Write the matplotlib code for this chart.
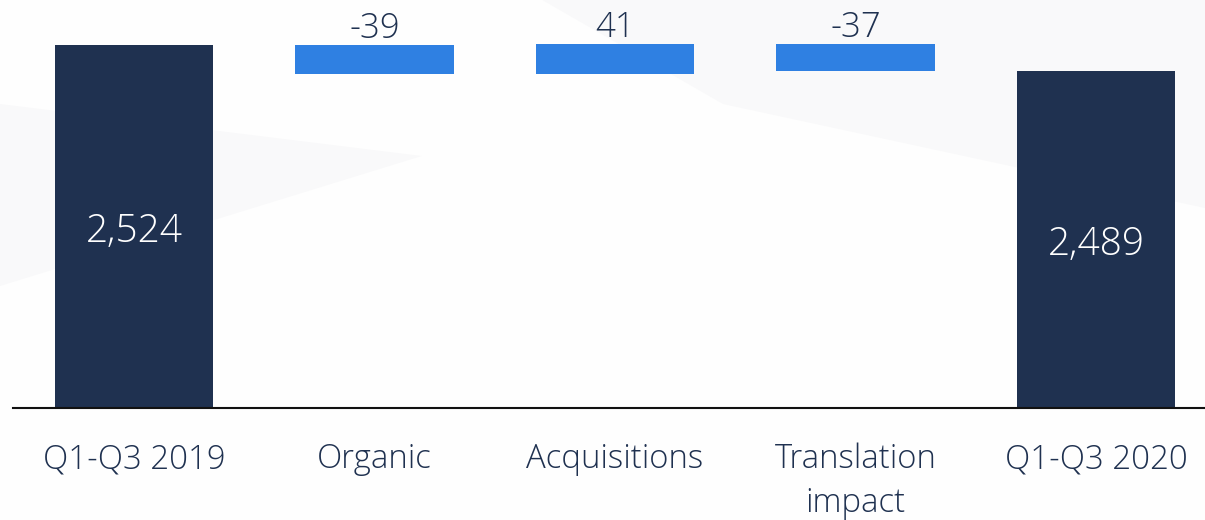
import matplotlib.pyplot as plt
from matplotlib.patches import Polygon

categories = ['Q1-Q3 2019', 'Organic', 'Acquisitions', 'Translation\nimpact', 'Q1-Q3 2020']
start_value = 2524
changes = [-39, 41, -37]
end_value = 2489

navy = '#1F3150'
blue = '#2F80E2'

plt.rcParams['font.family'] = ['Open Sans', 'DejaVu Sans']

fig = plt.figure(figsize=(12.05, 5.2), dpi=100)
fig.patch.set_facecolor('#FEFEFE')

# very faint background swoosh
bg = fig.add_axes([0, 0, 1, 1], zorder=0)
bg.set_xlim(0, 1)
bg.set_ylim(0, 1)
bg.axis('off')
bg.add_patch(Polygon([[0.45, 1], [1, 1], [1, 0.6], [0.6, 0.8]], closed=True,
                     facecolor='#F9F9FA', lw=0))
bg.add_patch(Polygon([[0.0, 0.45], [0.35, 0.7], [0.0, 0.8]], closed=True,
                     facecolor='#F9F9FA', lw=0))

ax = fig.add_axes([13 / 1205, 112 / 520, 1 - 13 / 1205, 408 / 520], zorder=1)
ax.patch.set_alpha(0)

width = 0.66
# totals
ax.bar([0, 4], [start_value, end_value], width=width, color=navy, zorder=2)

# floating change bars
running = start_value
for i, val in enumerate(changes):
    lo = min(running, running + val)
    ax.bar(i + 1, abs(val), bottom=lo, width=width, color=blue, zorder=2)
    top = max(running, running + val)
    ax.annotate(f'{val:d}', (i + 1, top), xytext=(0, -1), textcoords='offset points',
                ha='center', va='bottom', fontsize=25, color=navy, fontweight=300)
    running += val

ymin = 2035.4
ax.set_ylim(ymin, 2584.6)
ax.set_xlim(-0.503, 4.453)

for x, v in [(0, start_value), (4, end_value)]:
    ax.annotate(f'{v:,}', (x, (ymin + v) / 2), xytext=(0, -4), textcoords='offset points',
                ha='center', va='center', fontsize=28, color='white', zorder=3,
                fontweight=300)

ax.set_xticks(range(len(categories)))
ax.set_xticklabels(categories, fontsize=23.7, color=navy, linespacing=1.42, va='top',
                   fontweight=300)
ax.tick_params(axis='x', length=0, pad=25)
ax.set_yticks([])
for s in ['top', 'right', 'left']:
    ax.spines[s].set_visible(False)
ax.spines['bottom'].set_color('#111111')
ax.spines['bottom'].set_linewidth(1.5)

fig.savefig('out.png', dpi=100)
